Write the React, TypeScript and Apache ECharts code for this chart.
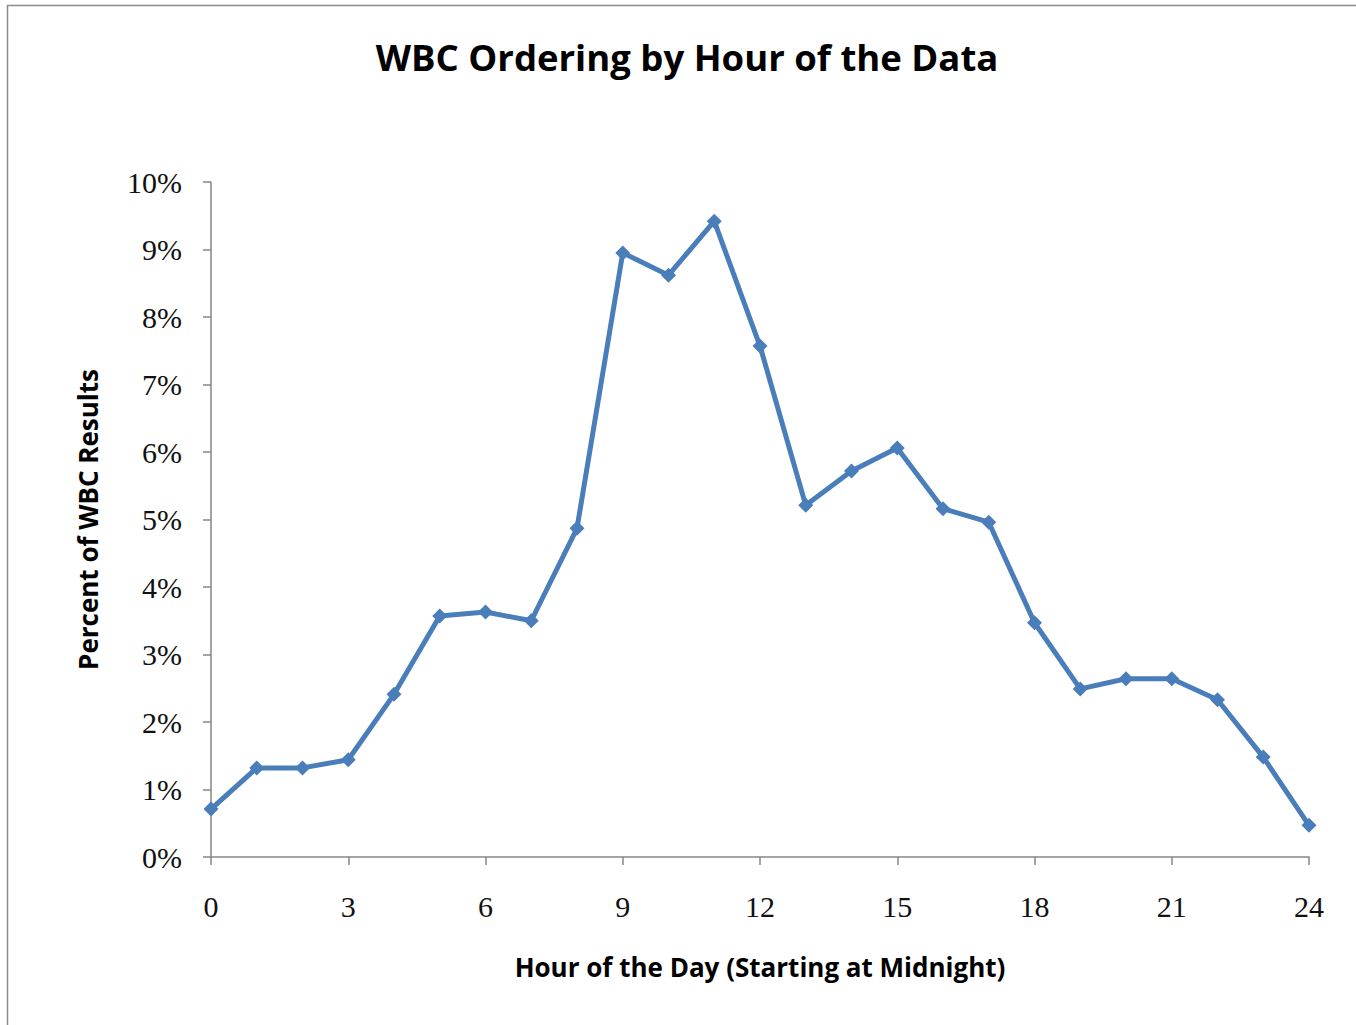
import React, { useEffect, useRef } from "react";
import * as echarts from "echarts";

const hours = [0,1,2,3,4,5,6,7,8,9,10,11,12,13,14,15,16,17,18,19,20,21,22,23,24];
const percents = [0.71,1.32,1.32,1.44,2.41,3.57,3.63,3.5,4.87,8.95,8.62,9.42,7.57,5.21,5.72,6.06,5.16,4.96,3.47,2.49,2.64,2.64,2.33,1.48,0.47];

const titleText = "WBC Ordering by Hour of the Data";
const xName = "Hour of the Day (Starting at Midnight)";
const yName = "Percent of WBC Results";

export default function App() {
  const ref = useRef<HTMLDivElement>(null);
  useEffect(() => {
    const chart = echarts.init(ref.current!, null, { renderer: "svg" });
    const axisGray = "#868686";
    chart.setOption({
      animation: false,
      backgroundColor: "#ffffff",
      title: {
        text: titleText,
        left: 682,
        textAlign: "center",
        top: 33,
        textStyle: { fontFamily: "Open Sans", fontWeight: "bold", fontSize: 36.5, color: "#000" },
      },
      graphic: [
        {
          type: "rect",
          shape: { x: 7.5, y: 5.5, width: 1400, height: 1100 },
          style: { fill: "none", stroke: "#8c8c8c", lineWidth: 1.5 },
          silent: true,
        },
      ],
      grid: { left: 211, right: 47, top: 182, bottom: 168 },
      xAxis: {
        type: "value",
        min: 0,
        max: 24,
        interval: 3,
        name: xName,
        nameLocation: "middle",
        nameGap: 97,
        nameTextStyle: { fontFamily: "Open Sans", fontWeight: "bold", fontSize: 26, color: "#000" },
        axisLine: { show: true, lineStyle: { color: axisGray, width: 1.5 } },
        axisTick: { show: true, length: 8, inside: false, lineStyle: { color: axisGray, width: 1.5 } },
        axisLabel: { fontFamily: "Liberation Serif", fontSize: 30, color: "#111", margin: 34 },
        splitLine: { show: false },
      },
      yAxis: {
        type: "value",
        min: 0,
        max: 10,
        interval: 1,
        name: yName,
        nameLocation: "middle",
        nameRotate: 90,
        nameGap: 110,
        nameTextStyle: { fontFamily: "Open Sans", fontWeight: "bold", fontSize: 26, color: "#000" },
        axisLine: { show: true, lineStyle: { color: axisGray, width: 1.5 } },
        axisTick: { show: true, length: 8, inside: false, lineStyle: { color: axisGray, width: 1.5 } },
        axisLabel: { fontFamily: "Liberation Serif", fontSize: 30, color: "#111", margin: 29, formatter: "{value}%" },
        splitLine: { show: false },
      },
      series: [
        {
          type: "line",
          data: hours.map((h, i) => [h, percents[i]]),
          symbol: "diamond",
          symbolSize: 15,
          lineStyle: { color: "#4a7ebb", width: 5 },
          itemStyle: { color: "#4a7ebb" },
        },
      ],
    });
    return () => chart.dispose();
  }, []);
  return (
    <div
      ref={ref}
      style={{ position: "absolute", left: 0, top: 0, width: 1356, height: 1025 }}
    />
  );
}
